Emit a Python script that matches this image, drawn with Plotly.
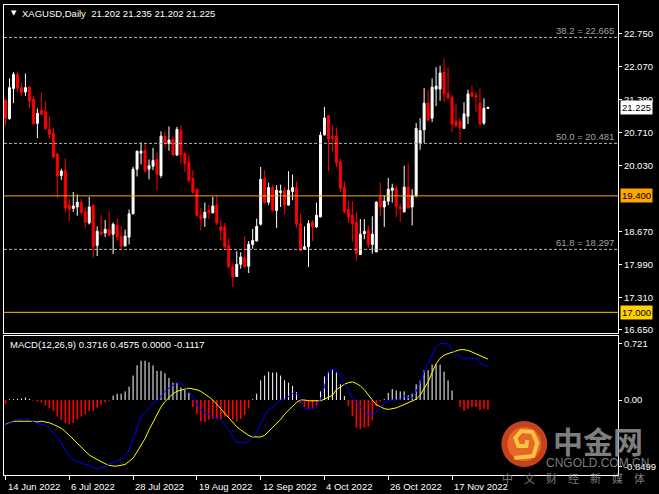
import plotly.graph_objects as go

# ---------------- data ----------------
opens = [21.37, 20.99, 21.61, 21.90, 21.63, 21.54, 21.64, 21.39, 20.895, 21.16,
         21.14, 20.77, 20.69, 20.26, 19.82, 19.92, 19.21, 19.14, 19.17, 19.27,
         19.07, 18.84, 19.21, 18.38, 18.65, 18.635, 18.71, 18.61, 18.80, 18.57,
         18.37, 18.55, 19.03, 19.95, 20.28, 20.34, 19.95, 20.01, 20.15, 19.82,
         20.63, 20.48, 20.57, 20.24, 20.75, 20.27, 20.10, 19.76, 19.535, 19.00,
         18.945, 19.10, 19.05, 19.21, 18.76, 18.76, 18.38, 17.94, 17.74, 17.99,
         18.12, 17.95, 18.40, 18.47, 18.815, 19.76, 19.27, 19.57, 19.10, 19.47,
         19.515, 19.21, 19.49, 19.57, 18.83, 18.30, 18.35, 18.86, 18.76, 18.965,
         20.66, 21.05, 20.62, 20.63, 20.10, 19.58, 19.12, 19.00, 18.85, 18.19,
         18.62, 18.69, 18.40, 18.245, 19.38, 19.17, 19.29, 19.515, 19.55, 19.17,
         19.07, 19.58, 19.17, 19.40, 20.49, 20.76, 21.31, 21.00, 21.60, 21.60,
         21.95, 21.51, 21.43, 20.94, 20.94, 20.79, 21.04, 21.52, 21.466, 21.31,
         20.90, 21.202]
highs = [21.40, 21.82, 21.95, 21.95, 21.73, 21.92, 21.66, 21.46, 21.20, 21.53,
         21.35, 21.04, 20.81, 20.28, 19.96, 20.17, 19.34, 19.48, 19.43, 19.34,
         19.17, 19.38, 19.22, 18.77, 19.00, 18.90, 19.08, 18.85, 18.94, 18.77,
         18.705, 19.12, 20.00, 20.33, 20.50, 20.50, 20.15, 20.39, 20.30, 20.73,
         20.73, 20.83, 20.63, 20.82, 20.85, 20.30, 20.24, 19.93, 19.55, 19.15,
         19.26, 19.21, 19.38, 19.41, 18.90, 18.84, 18.53, 18.005, 18.26, 18.24,
         18.57, 18.47, 18.72, 18.93, 19.995, 19.93, 19.67, 19.63, 19.62, 19.63,
         19.58, 19.91, 19.84, 19.70, 19.02, 18.77, 18.90, 18.90, 19.26, 20.72,
         21.23, 21.07, 20.85, 20.81, 20.17, 19.70, 19.29, 19.29, 19.06, 18.92,
         18.92, 18.79, 18.98, 19.29, 19.67, 19.41, 19.77, 19.65, 19.62, 19.24,
         20.02, 20.065, 19.535, 20.90, 21.00, 21.62, 21.59, 21.82, 22.05, 22.08,
         22.235, 22.05, 21.48, 21.29, 21.00, 21.33, 21.59, 21.67, 21.53, 21.62,
         21.41, 21.235]
lows = [20.85, 20.97, 21.31, 21.54, 21.46, 21.46, 21.21, 20.88, 20.59, 21.06,
        20.76, 20.58, 20.17, 19.36, 19.73, 19.07, 18.88, 19.07, 18.99, 19.01,
        18.73, 18.81, 18.13, 18.16, 18.59, 18.55, 18.58, 18.20, 18.47, 18.29,
        18.35, 18.40, 19.02, 19.80, 20.05, 19.88, 19.74, 19.93, 19.515, 19.77,
        20.39, 20.33, 20.22, 20.22, 20.065, 19.89, 19.67, 19.45, 18.99, 18.69,
        18.76, 18.92, 19.04, 18.79, 18.48, 18.31, 17.90, 17.52, 17.73, 17.90,
        17.92, 17.81, 18.31, 18.46, 18.79, 19.24, 19.21, 19.08, 18.74, 19.17,
        19.02, 19.20, 19.31, 18.74, 18.26, 18.29, 17.935, 18.47, 18.74, 18.96,
        20.64, 19.91, 20.32, 19.995, 19.48, 19.035, 18.84, 18.45, 18.06, 18.18,
        18.505, 18.33, 18.21, 18.24, 18.98, 18.76, 19.21, 19.26, 18.965, 18.86,
        19.06, 19.14, 18.79, 19.37, 20.35, 20.49, 20.95, 20.92, 21.25, 21.36,
        21.34, 21.38, 20.71, 20.81, 20.55, 20.78, 20.88, 21.44, 21.12, 20.85,
        20.86, 21.202]
closes = [20.99, 21.63, 21.905, 21.63, 21.53, 21.63, 21.35, 20.88, 21.10, 21.08,
          20.79, 20.67, 20.20, 19.81, 19.91, 19.15, 19.12, 19.19, 19.27, 19.06,
          18.86, 19.17, 18.35, 18.67, 18.61, 18.71, 18.59, 18.815, 18.55, 18.36,
          18.57, 19.03, 19.95, 20.32, 20.32, 19.91, 20.02, 20.13, 19.845, 20.63,
          20.48, 20.55, 20.24, 20.77, 20.24, 20.065, 19.72, 19.47, 19.00, 18.92,
          19.06, 19.05, 19.19, 18.84, 18.69, 18.35, 17.94, 17.73, 17.99, 18.14,
          17.94, 18.40, 18.48, 18.77, 19.74, 19.26, 19.57, 19.10, 19.515, 19.50,
          19.21, 19.515, 19.57, 18.815, 18.28, 18.35, 18.83, 18.76, 19.00, 20.65,
          21.005, 20.57, 20.59, 20.08, 19.55, 19.08, 18.965, 18.83, 18.21, 18.61,
          18.67, 18.40, 18.61, 19.27, 19.17, 19.29, 19.535, 19.56, 19.19, 19.14,
          19.58, 19.15, 19.41, 20.79, 20.745, 21.31, 20.96, 21.64, 21.66, 21.93,
          21.50, 21.42, 20.88, 20.85, 20.81, 21.09, 21.50, 21.45, 21.44, 20.88,
          21.205, 21.225]

macd_main = [-0.32, -0.29, -0.26, -0.25, -0.24, -0.23, -0.25, -0.28, -0.30, -0.31,
             -0.32, -0.36, -0.42, -0.49, -0.54, -0.64, -0.72, -0.76, -0.78, -0.81,
             -0.82, -0.83, -0.86, -0.87, -0.86, -0.85, -0.81, -0.80, -0.77, -0.76,
             -0.72, -0.64, -0.49, -0.34, -0.22, -0.16, -0.10, -0.04, -0.02, 0.05,
             0.11, 0.15, 0.19, 0.22, 0.22, 0.17, 0.11, 0.04, -0.06, -0.13,
             -0.16, -0.19, -0.21, -0.23, -0.25, -0.31, -0.38, -0.47, -0.54, -0.54,
             -0.55, -0.52, -0.47, -0.42, -0.29, -0.20, -0.12, -0.09, -0.04, 0.00,
             0.01, 0.04, 0.08, 0.08, 0.01, -0.11, -0.12, -0.11, -0.08, 0.01,
             0.17, 0.37, 0.39, 0.38, 0.31, 0.21, 0.13, 0.03, -0.03, -0.09,
             -0.15, -0.18, -0.19, -0.15, -0.09, -0.04, -0.01, 0.00, 0.00, 0.01,
             0.05, 0.03, 0.02, 0.11, 0.22, 0.36, 0.47, 0.59, 0.68, 0.72,
             0.72, 0.71, 0.64, 0.59, 0.56, 0.52, 0.53, 0.53, 0.53, 0.47,
             0.45, 0.42]
macd_signal = [-0.31, -0.29, -0.27, -0.27, -0.27, -0.27, -0.27, -0.27, -0.28, -0.27,
               -0.28, -0.29, -0.31, -0.33, -0.36, -0.40, -0.45, -0.50, -0.55, -0.61,
               -0.66, -0.70, -0.73, -0.76, -0.78, -0.81, -0.83, -0.84, -0.84, -0.83,
               -0.82, -0.78, -0.74, -0.66, -0.57, -0.49, -0.38, -0.28, -0.17, -0.09,
               -0.02, 0.03, 0.08, 0.11, 0.13, 0.14, 0.15, 0.14, 0.13, 0.11,
               0.08, 0.04, 0.00, -0.05, -0.11, -0.17, -0.23, -0.29, -0.34, -0.38,
               -0.42, -0.45, -0.47, -0.47, -0.47, -0.45, -0.40, -0.36, -0.31, -0.25,
               -0.18, -0.13, -0.07, -0.03, 0.00, 0.00, -0.01, -0.01, -0.01, -0.01,
               0.01, 0.03, 0.06, 0.13, 0.17, 0.20, 0.22, 0.23, 0.21, 0.18,
               0.13, 0.06, 0.00, -0.06, -0.09, -0.11, -0.12, -0.11, -0.10, -0.08,
               -0.06, -0.04, -0.02, 0.01, 0.06, 0.14, 0.23, 0.35, 0.46, 0.53,
               0.57, 0.59, 0.61, 0.63, 0.64, 0.64, 0.63, 0.61, 0.59, 0.57,
               0.55, 0.52]
macd_hist = [-0.05, 0.01, 0.01, 0.015, 0.02, 0.03, 0.015, -0.01, -0.02, -0.03,
             -0.07, -0.10, -0.14, -0.21, -0.25, -0.29, -0.31, -0.29, -0.25, -0.21,
             -0.18, -0.14, -0.14, -0.10, -0.06, -0.03, -0.01, 0.055, 0.08, 0.08,
             0.11, 0.17, 0.31, 0.44, 0.50, 0.50, 0.48, 0.44, 0.37, 0.37,
             0.34, 0.28, 0.22, 0.22, 0.16, 0.13, 0.09, -0.09, -0.18, -0.27,
             -0.28, -0.25, -0.24, -0.23, -0.25, -0.21, -0.22, -0.25, -0.27, -0.24,
             -0.19, -0.10, 0.01, 0.08, 0.25, 0.31, 0.36, 0.35, 0.35, 0.31,
             0.25, 0.22, 0.18, 0.10, -0.04, -0.09, -0.11, -0.10, -0.07, 0.11,
             0.30, 0.36, 0.39, 0.35, 0.20, 0.05, -0.08, -0.20, -0.35, -0.37,
             -0.35, -0.34, -0.26, -0.08, -0.02, 0.01, 0.09, 0.14, 0.12, 0.11,
             0.11, 0.06, 0.08, 0.20, 0.25, 0.38, 0.38, 0.45, 0.45, 0.45,
             0.36, 0.25, 0.12, 0.0, -0.09, -0.14, -0.11, -0.09, -0.09, -0.13,
             -0.11, -0.12]

tick_index = [0, 16, 32, 48, 64, 80, 96, 112]
tick_labels = ["14 Jun 2022", "6 Jul 2022", "28 Jul 2022", "19 Aug 2022",
               "12 Sep 2022", "4 Oct 2022", "26 Oct 2022", "17 Nov 2022"]
price_ticks = [22.75, 22.07, 21.39, 20.71, 20.03, 18.67, 17.99, 17.31, 16.65]
fib_levels = [22.665, 20.481, 18.297]
fib_names = ["38.2", "50.0", "61.8"]
level_orange = 19.400
level_gold = 17.000
macd_ticks = [0.721, 0.0, -0.8499]
macd_tick_text = ["0.721", "0.00", "-0.8499"]
header_text = "XAGUSD,Daily  21.202 21.235 21.202 21.225"
macd_header = "MACD(12,26,9) 0.3716 0.4575 0.0000 -0.1117"
last_price = 21.225

bar_index = list(range(len(closes)))

# ---------------- layout geometry ----------------
W, H = 659, 494
ML, MR, MT, MB = 3, 40, 5, 19
PW, PH = W - ML - MR, H - MT - MB


def px(x, y):
    return (x - ML) / PW, (H - MB - y) / PH


FONT = "Liberation Sans"
FS = 9.5
main_bottom = px(0, 333)[1]
macd_top = px(0, 336)[1]

fig = go.Figure()

fig.add_trace(go.Candlestick(
    x=bar_index, open=opens, high=highs, low=lows, close=closes,
    increasing=dict(line=dict(color="#ffffff", width=1), fillcolor="#ffffff"),
    decreasing=dict(line=dict(color="#ff0000", width=1), fillcolor="#ff0000"),
    whiskerwidth=0, showlegend=False, hoverinfo="skip",
    xaxis="x", yaxis="y"))

# histogram as thin vertical sticks (one trace per colour)
for positive, colour, lw in [(True, "#ffffff", 1), (False, "#ff0000", 1.6)]:
    sx, sy = [], []
    for i, v in zip(bar_index, macd_hist):
        if (v >= 0) == positive and v != 0:
            sx += [i, i, None]
            sy += [0, v, None]
    fig.add_trace(go.Scatter(
        x=sx, y=sy, mode="lines", line=dict(color=colour, width=lw),
        showlegend=False, hoverinfo="skip", xaxis="x2", yaxis="y2"))

fig.add_trace(go.Scatter(
    x=bar_index, y=macd_signal, mode="lines",
    line=dict(color="#ffff00", width=1), showlegend=False,
    hoverinfo="skip", xaxis="x2", yaxis="y2"))
fig.add_trace(go.Scatter(
    x=bar_index, y=macd_main, mode="lines",
    line=dict(color="#0000ff", width=1), showlegend=False,
    hoverinfo="skip", xaxis="x2", yaxis="y2"))

shapes = []
annotations = []

for lvl, name in zip(fib_levels, fib_names):
    shapes.append(dict(type="line", xref="paper", x0=0, x1=1, yref="y",
                       y0=lvl, y1=lvl,
                       line=dict(color="#b4b4b4", width=1, dash="3px,2px")))
    annotations.append(dict(xref="paper", x=px(617, 0)[0], yref="y", y=lvl,
                            xanchor="right", yanchor="bottom", yshift=-1,
                            text=f"{name} = {lvl:.3f}", showarrow=False,
                            font=dict(family=FONT, size=FS, color="#9aa4ae")))

shapes.append(dict(type="line", xref="paper", x0=0, x1=1, yref="y",
                   y0=level_orange, y1=level_orange,
                   line=dict(color="#ffa500", width=1)))
shapes.append(dict(type="line", xref="paper", x0=0, x1=1, yref="y",
                   y0=level_gold, y1=level_gold,
                   line=dict(color="#ffc000", width=1)))

for val, bg in [(level_orange, "#ffa500"), (level_gold, "#ffd200"),
                (last_price, "#ffffff")]:
    annotations.append(dict(xref="paper", x=1, xshift=2, yref="y", y=val,
                            xanchor="left", yanchor="middle",
                            text=f"{val:.3f}", showarrow=False,
                            bgcolor=bg, borderpad=1,
                            font=dict(family=FONT, size=FS, color="#000000")))

# header texts
hx, hy = px(8, 13)
annotations.append(dict(xref="paper", yref="paper", x=hx, y=hy,
                        xanchor="left", yanchor="middle", text="▼",
                        showarrow=False,
                        font=dict(family="DejaVu Sans", size=7, color="#ffffff")))
hx, hy = px(19, 13)
annotations.append(dict(xref="paper", yref="paper", x=hx, y=hy,
                        xanchor="left", yanchor="middle", text=header_text,
                        showarrow=False,
                        font=dict(family=FONT, size=FS, color="#ffffff")))
hx, hy = px(7, 344)
annotations.append(dict(xref="paper", yref="paper", x=hx, y=hy,
                        xanchor="left", yanchor="middle", text=macd_header,
                        showarrow=False,
                        font=dict(family=FONT, size=FS, color="#ffffff")))

# date labels
dy = px(0, 486)[1]
for idx, lab in zip(tick_index, tick_labels):
    annotations.append(dict(xref="x2", x=idx, xshift=0, yref="paper", y=dy,
                            xanchor="left", yanchor="middle", text=lab,
                            showarrow=False,
                            font=dict(family=FONT, size=FS, color="#ffffff")))

# watermark (logo + text)
c0 = px(502, 421)
c1 = px(548, 467)
shapes.append(dict(type="circle", xref="paper", yref="paper",
                   x0=c0[0], y0=c1[1], x1=c1[0], y1=c0[1],
                   fillcolor="rgba(214,72,30,0.92)", line=dict(width=0)))
c0 = px(508, 427)
c1 = px(542, 461)
shapes.append(dict(type="circle", xref="paper", yref="paper",
                   x0=c0[0], y0=c1[1], x1=c1[0], y1=c0[1],
                   fillcolor="rgba(236,110,40,0.85)", line=dict(width=0)))
pts = [(515, 458), (534, 456), (538, 443), (533, 432), (522, 431),
       (516, 438), (519, 446), (527, 446), (528, 440)]
path = "M " + " L ".join(f"{px(a, b)[0]:.5f},{px(a, b)[1]:.5f}" for a, b in pts)
shapes.append(dict(type="path", xref="paper", yref="paper", path=path,
                   line=dict(color="rgba(250,200,70,0.95)", width=4)))

wx, wy = px(599, 440)
annotations.append(dict(xref="paper", yref="paper", x=wx, y=wy,
                        xanchor="center", yanchor="middle", text="<b>中金网</b>",
                        showarrow=False,
                        font=dict(family="Noto Sans CJK SC", size=30,
                                  color="rgba(150,150,150,0.85)")))
wx, wy = px(598, 463)
annotations.append(dict(xref="paper", yref="paper", x=wx, y=wy,
                        xanchor="center", yanchor="middle", text="CNGOLD.COM.CN",
                        showarrow=False,
                        font=dict(family=FONT, size=12,
                                  color="rgba(150,150,150,0.85)")))
wx, wy = px(574, 478)
annotations.append(dict(xref="paper", yref="paper", x=wx, y=wy,
                        xanchor="center", yanchor="middle",
                        text="中　文　财　经　新　媒　体",
                        showarrow=False,
                        font=dict(family="Noto Sans CJK SC", size=11,
                                  color="rgba(150,150,150,0.85)")))

x_start = -0.375
xr = [x_start, x_start + PW / 4.0]

axis_common = dict(showgrid=False, zeroline=False, showline=True,
                   linecolor="#ffffff", linewidth=1, mirror=True)

fig.update_layout(
    width=W, height=H,
    margin=dict(l=ML, r=MR, t=MT, b=MB),
    paper_bgcolor="#000000", plot_bgcolor="#000000",
    showlegend=False,
    xaxis=dict(domain=[0, 1], anchor="y", range=xr, showticklabels=False,
               ticks="", rangeslider=dict(visible=False), **axis_common),
    yaxis=dict(domain=[main_bottom, 1], anchor="x", side="right",
               range=[16.574, 23.333], tickvals=price_ticks,
               ticktext=[f"{v:.3f}" for v in price_ticks],
               ticks="outside", ticklen=3, tickcolor="#ffffff",
               tickfont=dict(family=FONT, size=FS, color="#ffffff"),
               **axis_common),
    xaxis2=dict(domain=[0, 1], anchor="y2", range=xr, matches="x",
                tickvals=tick_index, ticktext=[""] * len(tick_index),
                ticks="outside", ticklen=4, tickcolor="#ffffff",
                showticklabels=False, **axis_common),
    yaxis2=dict(domain=[0, macd_top], anchor="x2", side="right",
                range=[-0.954, 0.814], tickvals=macd_ticks,
                ticktext=macd_tick_text,
                ticks="outside", ticklen=3, tickcolor="#ffffff",
                tickfont=dict(family=FONT, size=FS, color="#ffffff"),
                **axis_common),
    shapes=shapes, annotations=annotations,
)

fig.write_html(
    "out.html",
    config={"displayModeBar": False},
    post_script=(
        "document.body.style.margin='0';"
        "document.body.style.background='#000';"
    ),
)
